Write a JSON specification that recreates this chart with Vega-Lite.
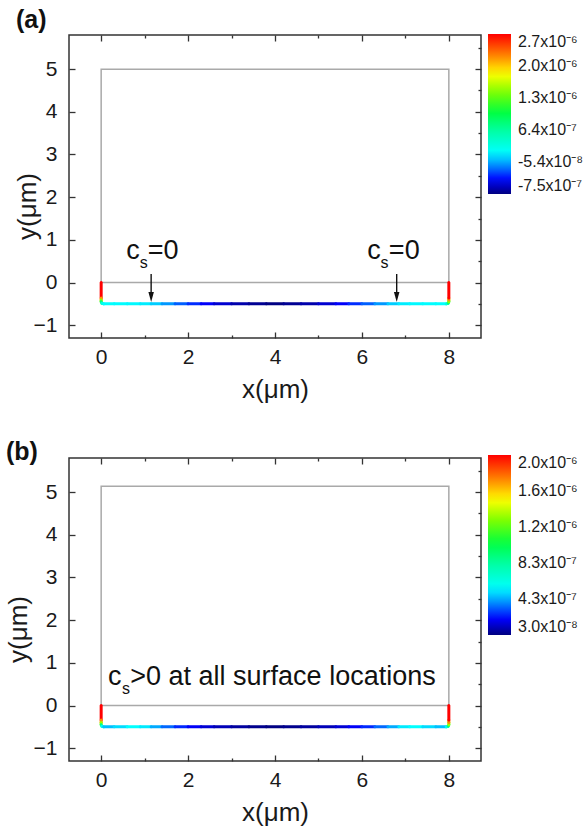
{
  "$schema": "https://vega.github.io/schema/vega-lite/v6.json",
  "background": "white",
  "padding": {"left": 4, "right": 0, "top": 7, "bottom": 2},
  "config": {
    "font": "Liberation Sans",
    "view": {"stroke": "#333333", "strokeWidth": 1.5},
    "axis": {"domain": false, "grid": false, "labelFont": "Liberation Sans", "labelFontSize": 21, "labelColor": "#1a1a1a", "tickColor": "#333333", "tickWidth": 1.3, "titleFont": "Liberation Sans", "titleFontSize": 26, "titleFontWeight": "normal", "titleColor": "#1a1a1a", "labelFlush": false},
    "legend": {"labelFont": "Liberation Sans", "labelFontSize": 16, "labelColor": "#1a1a1a", "padding": 0},
    "title": {"font": "Liberation Sans", "fontSize": 25, "fontWeight": "bold", "color": "#111111", "anchor": "start", "frame": "group", "baseline": "alphabetic"}
  },
  "datasets": {
    "boxA": [{"x": 0, "x2": 8, "y": 0, "y2": 5}],
    "boxB": [{"x": 0, "x2": 8, "y": 0, "y2": 5.14}],
    "segA": [
      {"x": 0, "x2": 0, "y": 0, "y2": -0.36, "c": 2.72e-6},
      {"x": 0, "x2": 0, "y": -0.36, "y2": -0.41, "c": 2.2e-6},
      {"x": 0, "x2": 0, "y": -0.41, "y2": -0.45, "c": 1.5e-6},
      {"x": 0, "x2": 0.015, "y": -0.45, "y2": -0.485, "c": 8e-7},
      {"x": 0.015, "x2": 0.06, "y": -0.485, "y2": -0.5, "c": 3e-7},
      {"x": 0.06, "x2": 0.3, "y": -0.5, "y2": -0.5, "c": 1.6e-7},
      {"x": 0.3, "x2": 0.6, "y": -0.5, "y2": -0.5, "c": 1.5e-7},
      {"x": 0.6, "x2": 0.9, "y": -0.5, "y2": -0.5, "c": 1.4e-7},
      {"x": 0.9, "x2": 1.15, "y": -0.5, "y2": -0.5, "c": 1.1e-7},
      {"x": 1.15, "x2": 1.4, "y": -0.5, "y2": -0.5, "c": 3e-8},
      {"x": 1.4, "x2": 1.7, "y": -0.5, "y2": -0.5, "c": -1.0e-7},
      {"x": 1.7, "x2": 2.0, "y": -0.5, "y2": -0.5, "c": -2.3e-7},
      {"x": 2.0, "x2": 2.3, "y": -0.5, "y2": -0.5, "c": -3.4e-7},
      {"x": 2.3, "x2": 2.6, "y": -0.5, "y2": -0.5, "c": -4.5e-7},
      {"x": 2.6, "x2": 3.0, "y": -0.5, "y2": -0.5, "c": -5.5e-7},
      {"x": 3.0, "x2": 3.4, "y": -0.5, "y2": -0.5, "c": -6.4e-7},
      {"x": 3.4, "x2": 3.8, "y": -0.5, "y2": -0.5, "c": -7.0e-7},
      {"x": 3.8, "x2": 4.2, "y": -0.5, "y2": -0.5, "c": -7.4e-7},
      {"x": 4.2, "x2": 4.6, "y": -0.5, "y2": -0.5, "c": -7.0e-7},
      {"x": 4.6, "x2": 5.0, "y": -0.5, "y2": -0.5, "c": -6.4e-7},
      {"x": 5.0, "x2": 5.4, "y": -0.5, "y2": -0.5, "c": -5.5e-7},
      {"x": 5.4, "x2": 5.7, "y": -0.5, "y2": -0.5, "c": -4.5e-7},
      {"x": 5.7, "x2": 6.0, "y": -0.5, "y2": -0.5, "c": -3.4e-7},
      {"x": 6.0, "x2": 6.3, "y": -0.5, "y2": -0.5, "c": -2.3e-7},
      {"x": 6.3, "x2": 6.6, "y": -0.5, "y2": -0.5, "c": -1.0e-7},
      {"x": 6.6, "x2": 6.85, "y": -0.5, "y2": -0.5, "c": 3e-8},
      {"x": 6.85, "x2": 7.1, "y": -0.5, "y2": -0.5, "c": 1.1e-7},
      {"x": 7.1, "x2": 7.4, "y": -0.5, "y2": -0.5, "c": 1.4e-7},
      {"x": 7.4, "x2": 7.7, "y": -0.5, "y2": -0.5, "c": 1.5e-7},
      {"x": 7.7, "x2": 7.94, "y": -0.5, "y2": -0.5, "c": 1.6e-7},
      {"x": 7.94, "x2": 7.985, "y": -0.5, "y2": -0.485, "c": 3e-7},
      {"x": 7.985, "x2": 8, "y": -0.485, "y2": -0.45, "c": 8e-7},
      {"x": 8, "x2": 8, "y": -0.45, "y2": -0.41, "c": 1.5e-6},
      {"x": 8, "x2": 8, "y": -0.41, "y2": -0.36, "c": 2.2e-6},
      {"x": 8, "x2": 8, "y": -0.36, "y2": 0, "c": 2.72e-6}
    ],
    "segB": [
      {"x": 0, "x2": 0, "y": 0, "y2": -0.34, "c": 2.03e-6},
      {"x": 0, "x2": 0, "y": -0.34, "y2": -0.4, "c": 1.75e-6},
      {"x": 0, "x2": 0, "y": -0.4, "y2": -0.45, "c": 1.35e-6},
      {"x": 0, "x2": 0.015, "y": -0.45, "y2": -0.485, "c": 9e-7},
      {"x": 0.015, "x2": 0.06, "y": -0.485, "y2": -0.5, "c": 6e-7},
      {"x": 0.06, "x2": 0.3, "y": -0.5, "y2": -0.5, "c": 4.6e-7},
      {"x": 0.3, "x2": 0.6, "y": -0.5, "y2": -0.5, "c": 5.0e-7},
      {"x": 0.6, "x2": 0.9, "y": -0.5, "y2": -0.5, "c": 5.5e-7},
      {"x": 0.9, "x2": 1.15, "y": -0.5, "y2": -0.5, "c": 5.2e-7},
      {"x": 1.15, "x2": 1.4, "y": -0.5, "y2": -0.5, "c": 4.3e-7},
      {"x": 1.4, "x2": 1.7, "y": -0.5, "y2": -0.5, "c": 3.4e-7},
      {"x": 1.7, "x2": 2.0, "y": -0.5, "y2": -0.5, "c": 2.6e-7},
      {"x": 2.0, "x2": 2.3, "y": -0.5, "y2": -0.5, "c": 2.0e-7},
      {"x": 2.3, "x2": 2.6, "y": -0.5, "y2": -0.5, "c": 1.5e-7},
      {"x": 2.6, "x2": 3.0, "y": -0.5, "y2": -0.5, "c": 1.1e-7},
      {"x": 3.0, "x2": 3.4, "y": -0.5, "y2": -0.5, "c": 7.5e-8},
      {"x": 3.4, "x2": 3.8, "y": -0.5, "y2": -0.5, "c": 5e-8},
      {"x": 3.8, "x2": 4.2, "y": -0.5, "y2": -0.5, "c": 3.5e-8},
      {"x": 4.2, "x2": 4.6, "y": -0.5, "y2": -0.5, "c": 5e-8},
      {"x": 4.6, "x2": 5.0, "y": -0.5, "y2": -0.5, "c": 7.5e-8},
      {"x": 5.0, "x2": 5.4, "y": -0.5, "y2": -0.5, "c": 1.1e-7},
      {"x": 5.4, "x2": 5.7, "y": -0.5, "y2": -0.5, "c": 1.5e-7},
      {"x": 5.7, "x2": 6.0, "y": -0.5, "y2": -0.5, "c": 2.0e-7},
      {"x": 6.0, "x2": 6.3, "y": -0.5, "y2": -0.5, "c": 2.6e-7},
      {"x": 6.3, "x2": 6.6, "y": -0.5, "y2": -0.5, "c": 3.4e-7},
      {"x": 6.6, "x2": 6.85, "y": -0.5, "y2": -0.5, "c": 4.3e-7},
      {"x": 6.85, "x2": 7.1, "y": -0.5, "y2": -0.5, "c": 5.2e-7},
      {"x": 7.1, "x2": 7.4, "y": -0.5, "y2": -0.5, "c": 5.5e-7},
      {"x": 7.4, "x2": 7.7, "y": -0.5, "y2": -0.5, "c": 5.0e-7},
      {"x": 7.7, "x2": 7.94, "y": -0.5, "y2": -0.5, "c": 4.6e-7},
      {"x": 7.94, "x2": 7.985, "y": -0.5, "y2": -0.485, "c": 6e-7},
      {"x": 7.985, "x2": 8, "y": -0.485, "y2": -0.45, "c": 9e-7},
      {"x": 8, "x2": 8, "y": -0.45, "y2": -0.4, "c": 1.35e-6},
      {"x": 8, "x2": 8, "y": -0.4, "y2": -0.34, "c": 1.75e-6},
      {"x": 8, "x2": 8, "y": -0.34, "y2": 0, "c": 2.03e-6}
    ],
    "arrowsA": [{"x": 1.15, "y": 0.2, "y2": -0.3}, {"x": 6.8, "y": 0.2, "y2": -0.3}],
    "headsA": [{"x": 1.15, "y": -0.34}, {"x": 6.8, "y": -0.34}],
    "textA": [{"x": 0.58, "y": 0.54, "t": "c"}, {"x": 1.07, "y": 0.54, "t": "=0"}, {"x": 6.12, "y": 0.54, "t": "c"}, {"x": 6.62, "y": 0.54, "t": "=0"}],
    "subA": [{"x": 0.89, "y": 0.35, "t": "s"}, {"x": 6.43, "y": 0.35, "t": "s"}],
    "textB": [{"x": 0.16, "y": 0.47, "t": "c"}, {"x": 0.67, "y": 0.47, "t": ">0 at all surface locations"}],
    "subB": [{"x": 0.48, "y": 0.26, "t": "s"}]
  },
  "vconcat": [
    {
      "width": 412,
      "height": 303,
      "title": {"text": "(a)", "anchor": "start", "frame": "group", "align": "left", "dx": -53, "offset": 1},
      "layer": [
        {
          "layer": [
            {
              "data": {"name": "boxA"},
              "mark": {"type": "rect", "filled": false, "color": "#a9a9a9", "strokeWidth": 1.5},
              "encoding": {
                "x": {"field": "x", "type": "quantitative", "scale": {"domain": [-0.74, 8.74], "nice": false, "zero": false},
                  "axis": {"values": [0, 1, 2, 3, 4, 5, 6, 7, 8], "labelExpr": "datum.value % 2 === 0 ? datum.label : ''", "tickSize": {"condition": {"test": "datum.value % 2 === 0", "value": -6}, "value": -3}, "labelPadding": 14, "title": "x(μm)", "titlePadding": 9}},
                "x2": {"field": "x2"},
                "y": {"field": "y", "type": "quantitative", "scale": {"domain": [-1.3, 5.8], "nice": false, "zero": false},
                  "axis": {"values": [-1, -0.5, 0, 0.5, 1, 1.5, 2, 2.5, 3, 3.5, 4, 4.5, 5, 5.5], "labelExpr": "datum.value % 1 === 0 ? datum.label : ''", "tickSize": {"condition": {"test": "datum.value % 1 === 0", "value": -6}, "value": -3}, "labelPadding": 18, "title": "y(μm)", "titleX": -29, "titleY": 171, "titleBaseline": "bottom"}},
                "y2": {"field": "y2"}
              }
            },
            {
              "data": {"name": "segA"},
              "mark": {"type": "rule", "strokeWidth": 3, "strokeCap": "round"},
              "encoding": {
                "x": {"field": "x", "type": "quantitative", "scale": {"domain": [-0.74, 8.74], "nice": false, "zero": false}},
                "x2": {"field": "x2"},
                "y": {"field": "y", "type": "quantitative", "scale": {"domain": [-1.3, 5.8], "nice": false, "zero": false}},
                "y2": {"field": "y2"},
                "color": {"field": "c", "type": "quantitative",
                  "scale": {"domain": [-7.5e-7, -4.37e-7, -1.59e-7, 1.54e-7, 6.4e-7, 1.02e-6, 1.47e-6, 1.856e-6, 2.27e-6, 2.725e-6], "range": ["#00007f", "#0000ff", "#0080ff", "#00ffff", "#00ffa0", "#00ff40", "#80ff00", "#ffff00", "#ff8000", "#ff0000"], "interpolate": "rgb"},
                  "legend": {"title": null, "orient": "none", "legendX": 419, "legendY": -1, "direction": "vertical", "gradientLength": 160, "gradientThickness": 23, "gradientStrokeWidth": 0, "values": [-7.5e-7, -5.5e-8, 6.4e-7, 1.335e-6, 2.03e-6, 2.725e-6], "labelExpr": "datum.value < -4e-7 ? '-7.5x10⁻⁷' : datum.value < 3e-7 ? '-5.4x10⁻⁸' : datum.value < 1e-6 ? '6.4x10⁻⁷' : datum.value < 1.7e-6 ? '1.3x10⁻⁶' : datum.value < 2.4e-6 ? '2.0x10⁻⁶' : '2.7x10⁻⁶'", "labelOffset": 7, "labelOverlap": false, "labelBaseline": "middle"}}
              }
            },
            {
              "data": {"name": "arrowsA"},
              "mark": {"type": "rule", "color": "#111111", "strokeWidth": 1.4},
              "encoding": {
                "x": {"field": "x", "type": "quantitative", "scale": {"domain": [-0.74, 8.74], "nice": false, "zero": false}},
                "y": {"field": "y", "type": "quantitative", "scale": {"domain": [-1.3, 5.8], "nice": false, "zero": false}},
                "y2": {"field": "y2"}
              }
            },
            {
              "data": {"name": "headsA"},
              "mark": {"type": "point", "shape": "M-0.55,-1L0.55,-1L0,1Z", "filled": true, "size": 100, "color": "#111111", "opacity": 1},
              "encoding": {
                "x": {"field": "x", "type": "quantitative", "scale": {"domain": [-0.74, 8.74], "nice": false, "zero": false}},
                "y": {"field": "y", "type": "quantitative", "scale": {"domain": [-1.3, 5.8], "nice": false, "zero": false}}
              }
            },
            {
              "data": {"name": "textA"},
              "mark": {"type": "text", "fontSize": 27, "align": "left", "baseline": "alphabetic", "color": "#111111", "font": "Liberation Sans"},
              "encoding": {
                "x": {"field": "x", "type": "quantitative", "scale": {"domain": [-0.74, 8.74], "nice": false, "zero": false}},
                "y": {"field": "y", "type": "quantitative", "scale": {"domain": [-1.3, 5.8], "nice": false, "zero": false}},
                "text": {"field": "t"}
              }
            },
            {
              "data": {"name": "subA"},
              "mark": {"type": "text", "fontSize": 16, "align": "left", "baseline": "alphabetic", "color": "#111111", "font": "Liberation Sans"},
              "encoding": {
                "x": {"field": "x", "type": "quantitative", "scale": {"domain": [-0.74, 8.74], "nice": false, "zero": false}},
                "y": {"field": "y", "type": "quantitative", "scale": {"domain": [-1.3, 5.8], "nice": false, "zero": false}},
                "text": {"field": "t"}
              }
            }
          ]
        },
        {
          "data": {"name": "boxA"},
          "mark": {"type": "point", "opacity": 0},
          "encoding": {
            "x": {"field": "x", "type": "quantitative", "scale": {"domain": [-0.74, 8.74], "nice": false, "zero": false},
              "axis": {"orient": "top", "values": [0, 1, 2, 3, 4, 5, 6, 7, 8], "labels": false, "title": null, "tickSize": {"condition": {"test": "datum.value % 2 === 0", "value": -6}, "value": -3}}},
            "y": {"field": "y", "type": "quantitative", "scale": {"domain": [-1.3, 5.8], "nice": false, "zero": false},
              "axis": {"orient": "right", "values": [-1, -0.5, 0, 0.5, 1, 1.5, 2, 2.5, 3, 3.5, 4, 4.5, 5, 5.5], "labels": false, "title": null, "tickSize": {"condition": {"test": "datum.value % 1 === 0", "value": -6}, "value": -3}}}
          }
        }
      ],
      "resolve": {"axis": {"x": "independent", "y": "independent"}}
    },
    {
      "width": 412,
      "height": 303,
      "title": {"text": "(b)", "anchor": "start", "frame": "group", "align": "left", "dx": -63, "offset": 5, "dy": 15},
      "layer": [
        {
          "layer": [
            {
              "data": {"name": "boxB"},
              "mark": {"type": "rect", "filled": false, "color": "#a9a9a9", "strokeWidth": 1.5},
              "encoding": {
                "x": {"field": "x", "type": "quantitative", "scale": {"domain": [-0.74, 8.74], "nice": false, "zero": false},
                  "axis": {"values": [0, 1, 2, 3, 4, 5, 6, 7, 8], "labelExpr": "datum.value % 2 === 0 ? datum.label : ''", "tickSize": {"condition": {"test": "datum.value % 2 === 0", "value": -6}, "value": -3}, "labelPadding": 14, "title": "x(μm)", "titlePadding": 9}},
                "x2": {"field": "x2"},
                "y": {"field": "y", "type": "quantitative", "scale": {"domain": [-1.3, 5.8], "nice": false, "zero": false},
                  "axis": {"values": [-1, -0.5, 0, 0.5, 1, 1.5, 2, 2.5, 3, 3.5, 4, 4.5, 5, 5.5], "labelExpr": "datum.value % 1 === 0 ? datum.label : ''", "tickSize": {"condition": {"test": "datum.value % 1 === 0", "value": -6}, "value": -3}, "labelPadding": 18, "title": "y(μm)", "titleX": -38, "titleY": 171, "titleBaseline": "bottom"}},
                "y2": {"field": "y2"}
              }
            },
            {
              "data": {"name": "segB"},
              "mark": {"type": "rule", "strokeWidth": 3, "strokeCap": "round"},
              "encoding": {
                "x": {"field": "x", "type": "quantitative", "scale": {"domain": [-0.74, 8.74], "nice": false, "zero": false}},
                "x2": {"field": "x2"},
                "y": {"field": "y", "type": "quantitative", "scale": {"domain": [-1.3, 5.8], "nice": false, "zero": false}},
                "y2": {"field": "y2"},
                "color": {"field": "c", "type": "quantitative",
                  "scale": {"domain": [3e-8, 2.1e-7, 3.7e-7, 5.5e-7, 8.3e-7, 1.05e-6, 1.31e-6, 1.53e-6, 1.77e-6, 2.03e-6], "range": ["#00007f", "#0000ff", "#0080ff", "#00ffff", "#00ffa0", "#00ff40", "#80ff00", "#ffff00", "#ff8000", "#ff0000"], "interpolate": "rgb"},
                  "legend": {"title": null, "orient": "none", "legendX": 419, "legendY": -3, "direction": "vertical", "gradientLength": 180, "gradientThickness": 23, "gradientStrokeWidth": 0, "values": [3e-8, 4.3e-7, 8.3e-7, 1.23e-6, 1.63e-6, 2.03e-6], "labelExpr": "datum.value < 2e-7 ? '3.0x10⁻⁸' : datum.value < 6e-7 ? '4.3x10⁻⁷' : datum.value < 1e-6 ? '8.3x10⁻⁷' : datum.value < 1.4e-6 ? '1.2x10⁻⁶' : datum.value < 1.8e-6 ? '1.6x10⁻⁶' : '2.0x10⁻⁶'", "labelOffset": 7, "labelOverlap": false, "labelBaseline": "middle"}}
              }
            },
            {
              "data": {"name": "textB"},
              "mark": {"type": "text", "fontSize": 27, "align": "left", "baseline": "alphabetic", "color": "#111111", "font": "Liberation Sans"},
              "encoding": {
                "x": {"field": "x", "type": "quantitative", "scale": {"domain": [-0.74, 8.74], "nice": false, "zero": false}},
                "y": {"field": "y", "type": "quantitative", "scale": {"domain": [-1.3, 5.8], "nice": false, "zero": false}},
                "text": {"field": "t"}
              }
            },
            {
              "data": {"name": "subB"},
              "mark": {"type": "text", "fontSize": 16, "align": "left", "baseline": "alphabetic", "color": "#111111", "font": "Liberation Sans"},
              "encoding": {
                "x": {"field": "x", "type": "quantitative", "scale": {"domain": [-0.74, 8.74], "nice": false, "zero": false}},
                "y": {"field": "y", "type": "quantitative", "scale": {"domain": [-1.3, 5.8], "nice": false, "zero": false}},
                "text": {"field": "t"}
              }
            }
          ]
        },
        {
          "data": {"name": "boxB"},
          "mark": {"type": "point", "opacity": 0},
          "encoding": {
            "x": {"field": "x", "type": "quantitative", "scale": {"domain": [-0.74, 8.74], "nice": false, "zero": false},
              "axis": {"orient": "top", "values": [0, 1, 2, 3, 4, 5, 6, 7, 8], "labels": false, "title": null, "tickSize": {"condition": {"test": "datum.value % 2 === 0", "value": -6}, "value": -3}}},
            "y": {"field": "y", "type": "quantitative", "scale": {"domain": [-1.3, 5.8], "nice": false, "zero": false},
              "axis": {"orient": "right", "values": [-1, -0.5, 0, 0.5, 1, 1.5, 2, 2.5, 3, 3.5, 4, 4.5, 5, 5.5], "labels": false, "title": null, "tickSize": {"condition": {"test": "datum.value % 1 === 0", "value": -6}, "value": -3}}}
          }
        }
      ],
      "resolve": {"axis": {"x": "independent", "y": "independent"}}
    }
  ],
  "spacing": 120,
  "bounds": "flush",
  "resolve": {"scale": {"color": "independent"}, "legend": {"color": "independent"}}
}
